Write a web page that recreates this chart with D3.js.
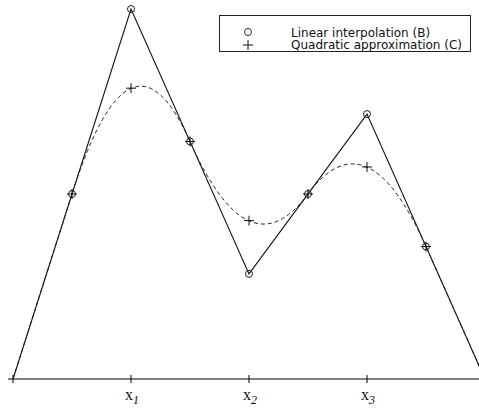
<!DOCTYPE html>
<html>
<head>
    <title>Linear interpolation vs quadratic approximation</title>
    <script src="https://cdnjs.cloudflare.com/ajax/libs/d3/7.8.5/d3.min.js"></script>
    <style>
    body{ margin: 0; background: #fff; }
    svg{ display: block; }
    </style>
</head>
<body>
    <svg width="479" height="410"></svg>
    <script>
        // control nodes of the piecewise linear function
        var nodeX = [0, 1, 2, 3, 4];
        var nodeY = [0, 1, 0.284, 0.716, 0];
        // circle markers (B)
        var circX = [0.5, 1, 1.5, 2, 2.5, 3, 3.5];
        var circY = [0.5, 1, 0.642, 0.284, 0.5, 0.716, 0.358];
        // cross markers (C)
        var crossX = [0.5, 1, 1.5, 2, 2.5, 3, 3.5];
        var crossY = [0.5, 0.786, 0.642, 0.428, 0.5, 0.573, 0.358];
        // x axis ticks
        var tickVals = [0, 1, 2, 3];
        var tickLabels = ["", "1", "2", "3"];
        var legendLabels = ["Linear interpolation (B)", "Quadratic approximation (C)"];

        var svg = d3.select("svg");
        var x = d3.scaleLinear().domain([0, 4]).range([13, 485]);
        var y = d3.scaleLinear().domain([0, 1]).range([379, 9]);

        // axis
        svg.append("line")
            .attr("x1", 8).attr("x2", 479)
            .attr("y1", y(0)).attr("y2", y(0))
            .attr("stroke", "#000").attr("stroke-width", 1.2);
        svg.selectAll("line.tick")
            .data(tickVals)
            .enter()
            .append("line")
            .attr("class", "tick")
            .attr("x1", function(d){return x(d)}).attr("x2", function(d){return x(d)})
            .attr("y1", y(0) - 4).attr("y2", y(0) + 4)
            .attr("stroke", "#000");
        var lbl = svg.selectAll("text.tl")
            .data(tickVals.filter(function(d, i){return tickLabels[i] !== ""}))
            .enter()
            .append("text")
            .attr("class", "tl")
            .attr("x", function(d){return x(d) - 6})
            .attr("y", 400)
            .attr("font-family", "Liberation Serif, serif")
            .attr("font-size", 16)
            .attr("fill", "#111");
        lbl.append("tspan").text("x");
        lbl.append("tspan")
            .attr("dy", 4)
            .attr("font-size", 12)
            .attr("font-style", "italic")
            .text(function(d){return tickLabels[tickVals.indexOf(d)]});

        // solid piecewise linear
        var pts = nodeX.map(function(d, i){return [d, nodeY[i]]});
        svg.append("path")
            .attr("d", d3.line().x(function(d){return x(d[0])}).y(function(d){return y(d[1])})(pts))
            .attr("fill", "none").attr("stroke", "#111").attr("stroke-width", 1.1);

        // dashed quadratic: straight to first midpoint, quadratic pieces with nodes as control points
        var p = d3.path();
        p.moveTo(x(nodeX[0]), y(nodeY[0]));
        p.lineTo(x(circX[0]), y(circY[0]));
        for (var i = 1; i < nodeX.length - 1; i++) {
            var k = 2 * i; // index of next midpoint in circ arrays
            p.quadraticCurveTo(x(nodeX[i]), y(nodeY[i]), x(circX[k]), y(circY[k]));
        }
        p.lineTo(x(nodeX[4]), y(nodeY[4]));
        svg.append("path")
            .attr("d", p.toString())
            .attr("fill", "none").attr("stroke", "#222").attr("stroke-width", 1)
            .attr("stroke-dasharray", "4,3");

        // markers
        svg.selectAll("circle.b")
            .data(circX)
            .enter()
            .append("circle")
            .attr("class", "b")
            .attr("cx", function(d){return x(d)})
            .attr("cy", function(d, i){return y(circY[i])})
            .attr("r", 3.5)
            .attr("fill", "none").attr("stroke", "#222");
        var cr = 5;
        svg.selectAll("path.c")
            .data(crossX)
            .enter()
            .append("path")
            .attr("class", "c")
            .attr("d", function(d, i){
                var cx = x(d), cy = y(crossY[i]);
                return "M" + (cx - cr) + "," + cy + "H" + (cx + cr) + "M" + cx + "," + (cy - cr) + "V" + (cy + cr);
            })
            .attr("stroke", "#111").attr("fill", "none");

        // legend
        var leg = svg.append("g");
        leg.append("rect")
            .attr("x", 219.5).attr("y", 15.5).attr("width", 251).attr("height", 36)
            .attr("fill", "#fff").attr("stroke", "#222");
        leg.append("circle")
            .attr("cx", 248).attr("cy", 32).attr("r", 3.5)
            .attr("fill", "none").attr("stroke", "#222");
        leg.append("path")
            .attr("d", "M" + (248 - cr) + ",45H" + (248 + cr) + "M248," + (45 - cr) + "V" + (45 + cr))
            .attr("stroke", "#111");
        leg.selectAll("text")
            .data(legendLabels)
            .enter()
            .append("text")
            .attr("x", 291)
            .attr("y", function(d, i){return 36.5 + i * 12.5})
            .attr("font-family", "DejaVu Sans, sans-serif")
            .attr("font-size", 12)
            .attr("fill", "#111")
            .text(function(d){return d});
    </script>
</body>
</html>
